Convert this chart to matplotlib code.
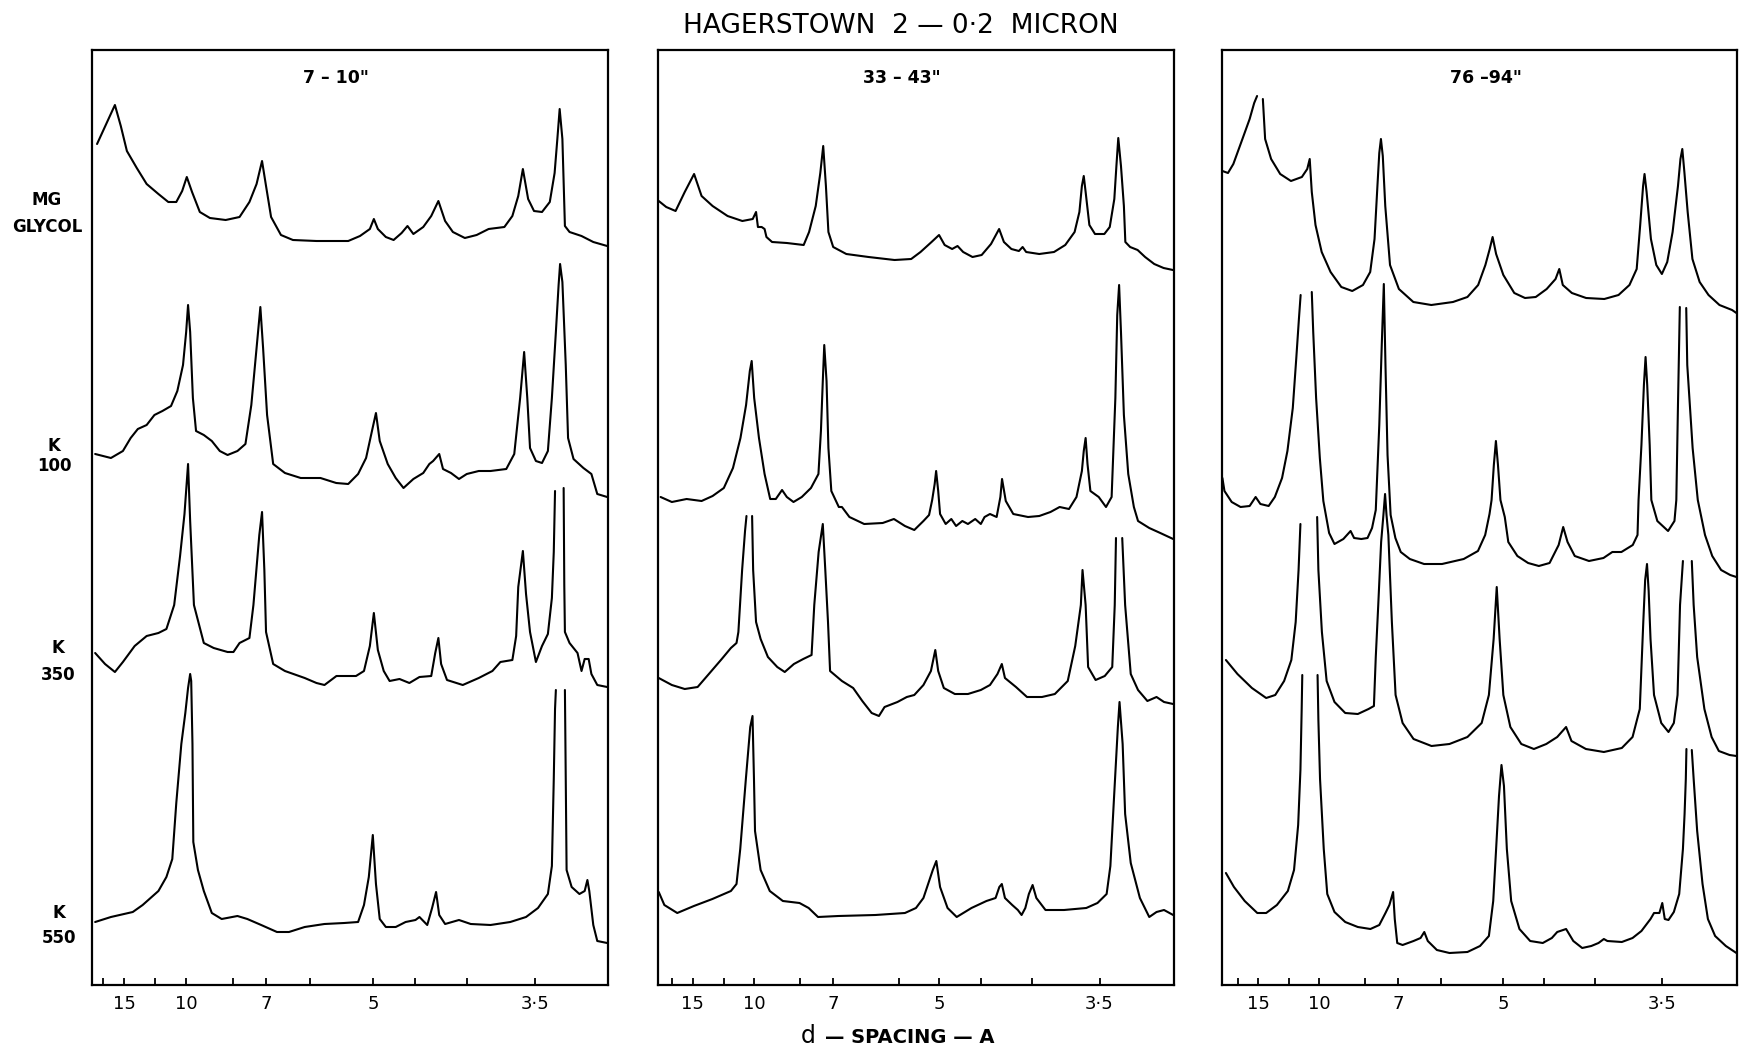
import numpy as np
import matplotlib
matplotlib.use("Agg")
import matplotlib.pyplot as plt

NaN = np.nan
WAVELENGTH = 1.5418  # Cu K-alpha, Angstrom

# ---------------- data: 2-theta (deg) and relative intensity ----------------
# Panel 1  (7 - 10")
P1_MG_T = [4.61, 5.46, 5.74, 6.03, 6.50, 6.97, 7.53, 8.00, 8.38, 8.66, 8.88, 9.13, 9.50, 9.98, 10.73, 11.39,
           11.86, 12.20, 12.46, 12.65, 12.89, 13.36, 13.93, 15.05, 16.56, 17.12, 17.59, 17.78, 17.97, 18.35,
           18.72, 19.10, 19.38, 19.66, 20.13, 20.51, 20.85, 21.17, 21.54, 22.11, 22.67, 23.24, 23.99, 24.37,
           24.65, 24.87, 25.12, 25.40, 25.78, 26.15, 26.38, 26.51, 26.62, 26.75, 26.87, 27.09, 27.66, 28.22, 28.88]
P1_MG_I = [841, 880, 859, 834, 817, 801, 791, 783, 783, 794, 808, 793, 773, 767, 765, 768,
           783, 801, 824, 799, 768, 750, 745, 744, 744, 749, 756, 766, 756, 748,
           745, 752, 759, 751, 758, 769, 784, 764, 753, 747, 750, 756, 758, 769,
           789, 816, 786, 774, 773, 783, 812, 846, 876, 846, 759, 753, 749, 743, 739]

P1_K100_T = [4.52, 5.27, 5.84, 6.21, 6.55, 6.97, 7.34, 7.72, 8.13, 8.43, 8.70, 8.85, 8.94, 9.04, 9.17, 9.32,
             9.69, 10.07, 10.45, 10.82, 11.29, 11.67, 11.95, 12.20, 12.38, 12.51, 12.70, 12.99, 13.55, 14.30,
             15.24, 15.99, 16.56, 17.03, 17.41, 17.69, 17.88, 18.06, 18.44, 18.82, 19.19, 19.66, 20.13, 20.42,
             20.60, 20.89, 21.07, 21.45, 21.83, 22.20, 22.77, 23.33, 24.08, 24.46, 24.74, 24.93, 25.08, 25.21,
             25.49, 25.78, 26.06, 26.25, 26.44, 26.57, 26.64, 26.75, 26.91, 27.02, 27.28, 27.75, 28.13, 28.41, 28.88]
P1_K100_I = [531, 527, 534, 547, 556, 560, 570, 574, 579, 594, 620, 653, 680, 653, 587, 554,
             550, 544, 534, 530, 534, 541, 580, 637, 678, 637, 570, 521, 512, 507,
             507, 502, 501, 511, 527, 554, 572, 544, 521, 507, 497, 506, 512, 521,
             524, 531, 516, 512, 506, 511, 514, 514, 516, 531, 587, 633, 587, 537,
             524, 522, 534, 587, 653, 700, 721, 703, 620, 547, 526, 517, 511, 491, 488]

P1_K350_T = [4.52, 4.99, 5.46, 5.84, 6.40, 6.97, 7.53, 7.91, 8.28, 8.56, 8.77, 8.94, 9.04, 9.22, 9.69, 10.16,
             10.82, 11.10, 11.39, 11.86, 12.05, 12.33, 12.46, 12.57, 12.65, 12.99, 13.55, 14.49, 15.05, 15.43,
             16.00, 16.93, 17.31, 17.59, 17.78, 17.97, 18.25, 18.53, 19.00, 19.47, 19.95, 20.51, 20.70, 20.85,
             20.98, 21.26, 22.01, 22.77, 23.42, 23.80, 24.37, 24.55, 24.65, 24.87, 25.02, 25.21, 25.49, 25.78,
             26.06, 26.25, 26.34, 26.40, NaN, 26.81, 26.84, 26.87, 27.09, 27.47, 27.66, 27.81, 28.00, 28.13,
             28.41, 28.88]
P1_K350_I = [332, 321, 313, 323, 339, 349, 352, 356, 380, 429, 471, 521, 464, 380, 342, 337,
             333, 333, 342, 347, 380, 450, 473, 415, 353, 321, 314, 307, 302, 300,
             309, 309, 314, 339, 372, 335, 314, 304, 306, 302, 308, 309, 332, 347,
             321, 305, 300, 307, 314, 323, 325, 349, 398, 434, 391, 353, 323, 339,
             351, 387, 433, 494, NaN, 497, 400, 353, 342, 332, 314, 326, 326, 311,
             300, 298]

P1_K550_T = [4.52, 5.27, 6.31, 6.78, 7.53, 7.91, 8.19, 8.38, 8.62, 8.81, 8.94, 9.04, 9.09, 9.15, 9.19, 9.41,
             9.69, 10.07, 10.54, 11.29, 11.76, 12.42, 13.17, 13.74, 14.49, 15.43, 16.37, 17.03, 17.31, 17.54,
             17.73, 17.88, 18.06, 18.35, 18.82, 19.29, 19.76, 19.95, 20.32, 20.55, 20.74, 20.89, 21.17, 21.83,
             22.39, 23.33, 24.27, 25.02, 25.59, 26.06, 26.25, 26.34, 26.40, 26.44, NaN, 26.87, 26.91, 26.95,
             27.19, 27.56, 27.81, 27.94, 28.03, 28.22, 28.41, 28.88]
P1_K550_I = [63, 68, 73, 80, 94, 108, 126, 182, 241, 272, 297, 311, 304, 241, 143, 115,
             94, 72, 66, 69, 66, 60, 53, 53, 58, 61, 62, 63, 80, 108,
             150, 101, 66, 58, 58, 63, 65, 68, 60, 77, 93, 70, 61, 65,
             61, 60, 63, 68, 77, 91, 119, 206, 276, 295, NaN, 295, 206, 115,
             98, 91, 94, 105, 94, 60, 44, 42]

# Panel 2  (33 - 43")
P2_MG_T = [4.25, 4.61, 5.06, 5.50, 5.95, 6.31, 6.84, 7.56, 8.27, 8.77, 8.93, 9.02, 9.20, 9.34, 9.43, 9.70,
           10.41, 11.22, 11.48, 11.80, 12.02, 12.16, 12.29, 12.41, 12.64, 13.27, 14.34, 15.59, 16.39, 16.84,
           17.37, 17.73, 18.00, 18.36, 18.62, 18.89, 19.34, 19.78, 20.23, 20.62, 20.85, 21.21, 21.57, 21.75,
           21.92, 22.55, 23.26, 23.80, 24.25, 24.48, 24.60, 24.69, 24.78, 24.96, 25.23, 25.68, 25.94, 26.16,
           26.26, 26.35, 26.48, 26.62, 26.69, 26.92, 27.28, 27.64, 28.08, 28.53, 28.98]
P2_MG_I = [784, 778, 774, 793, 811, 789, 779, 769, 764, 766, 773, 758, 758, 756, 748, 743,
           742, 740, 753, 779, 812, 839, 799, 753, 738, 731, 728, 725, 726, 733,
           743, 750, 740, 736, 739, 733, 728, 730, 741, 756, 743, 736, 734, 738,
           733, 731, 733, 740, 753, 773, 799, 809, 793, 760, 751, 751, 758, 786,
           819, 847, 819, 779, 743, 738, 735, 728, 721, 717, 715]

P2_K100_T = [4.34, 4.88, 5.59, 6.31, 6.84, 7.38, 7.82, 8.18, 8.45, 8.63, 8.72, 8.84, 9.07, 9.34, 9.61, 9.88,
             10.18, 10.41, 10.73, 11.13, 11.57, 11.93, 12.05, 12.14, 12.21, 12.32, 12.41, 12.55, 12.91, 13.06,
             13.42, 14.13, 15.02, 15.56, 16.09, 16.54, 16.98, 17.25, 17.40, 17.52, 17.59, 17.69, 17.78, 18.05,
             18.32, 18.55, 18.85, 19.12, 19.47, 19.74, 19.92, 20.18, 20.50, 20.68, 20.76, 20.94, 21.30, 22.01,
             22.55, 23.09, 23.53, 23.98, 24.34, 24.60, 24.69, 24.78, 24.87, 25.01, 25.41, 25.76, 26.03, 26.21,
             26.30, 26.39, 26.48, 26.62, 26.83, 27.10, 27.30, 27.84, 28.37, 28.99]
P2_K100_I = [488, 483, 486, 484, 489, 497, 517, 547, 580, 614, 624, 587, 547, 511, 486, 486,
             495, 488, 483, 488, 497, 511, 554, 604, 640, 604, 537, 494, 478, 478,
             468, 461, 462, 466, 459, 455, 464, 470, 485, 501, 514, 494, 471, 461,
             466, 459, 464, 461, 466, 461, 468, 471, 468, 488, 506, 484, 471, 468,
             469, 473, 478, 476, 488, 514, 534, 547, 521, 494, 488, 478, 488, 587,
             670, 700, 653, 570, 511, 478, 464, 457, 452, 446]

P2_K350_T = [4.25, 4.88, 5.50, 6.12, 6.66, 7.28, 7.72, 7.99, 8.08, 8.26, 8.40, 8.47, NaN, 8.74, 8.79, 8.93,
             9.15, 9.50, 9.95, 10.31, 10.75, 11.20, 11.60, 11.73, 11.94, 12.14, 12.26, 12.39, 12.49, 13.06,
             13.60, 14.04, 14.49, 14.84, 15.11, 15.73, 16.18, 16.54, 16.98, 17.34, 17.55, 17.69, 17.96, 18.49,
             19.12, 19.74, 20.18, 20.54, 20.75, 20.90, 21.43, 21.96, 22.68, 23.30, 23.92, 24.28, 24.55, 24.63,
             24.78, 24.90, 25.26, 25.70, 26.06, 26.18, 26.24, NaN, 26.54, 26.68, 26.95, 27.30, 27.75, 28.19,
             28.55, 28.99]
P2_K350_I = [307, 300, 296, 298, 311, 326, 337, 342, 353, 415, 454, 469, NaN, 469, 415, 363,
             346, 328, 318, 313, 321, 326, 330, 380, 433, 461, 415, 363, 314, 304,
             297, 284, 272, 269, 278, 283, 288, 290, 300, 314, 335, 314, 297, 291,
             291, 295, 300, 311, 321, 307, 298, 288, 288, 291, 304, 339, 380, 415,
             380, 318, 305, 309, 318, 380, 447, NaN, 447, 380, 311, 295, 284, 288,
             283, 281]

P2_K550_T = [4.25, 4.52, 5.14, 5.94, 6.83, 7.72, 7.99, 8.17, 8.44, 8.65, 8.76, 8.83, 8.88, 9.15, 9.59, 10.22,
             11.02, 11.46, 11.91, 12.89, 14.67, 16.09, 16.62, 16.98, 17.43, 17.60, 17.78, 18.14, 18.58, 19.29,
             20.01, 20.45, 20.63, 20.75, 20.90, 21.25, 21.52, 21.70, 21.88, 22.05, 22.23, 22.41, 22.85, 23.74,
             24.81, 25.35, 25.79, 25.97, 26.15, 26.33, 26.41, 26.56, 26.68, 26.95, 27.39, 27.84, 28.19, 28.55, 28.99]
P2_K550_I = [93, 80, 72, 79, 86, 94, 101, 136, 206, 258, 269, 206, 154, 115, 94, 84,
             82, 77, 68, 69, 70, 72, 77, 87, 115, 124, 98, 77, 68, 77,
             84, 87, 98, 101, 87, 80, 75, 70, 77, 91, 100, 87, 75, 75,
             77, 82, 91, 119, 189, 258, 283, 241, 171, 122, 87, 68, 73, 75, 70]

# Panel 3  (76 - 94")
P3_MG_T = [4.15, 4.42, 4.68, 5.12, 5.47, 5.69, 5.83, NaN, 6.11, 6.22, 6.51, 6.95, 7.47, 8.00, 8.26, 8.38,
           8.48, 8.66, 8.96, 9.39, 9.91, 10.44, 10.96, 11.31, 11.52, 11.66, 11.75, 11.83, 11.92, 12.04,
           12.27, 12.70, 13.40, 14.27, 15.32, 16.02, 16.54, 16.89, 17.10, 17.24, 17.41, 17.76, 18.29, 18.81,
           19.33, 19.86, 20.29, 20.47, 20.64, 21.08, 21.77, 22.65, 23.34, 23.87, 24.22, 24.39, 24.53, 24.60,
           24.70, 24.91, 25.17, 25.44, 25.70, 25.96, 26.22, 26.34, 26.43, 26.53, 26.69, 26.92, 27.27, 27.70,
           28.23, 28.84, 29.05]
P3_MG_I = [814, 812, 821, 846, 866, 882, 889, NaN, 886, 846, 826, 811, 804, 808, 816, 826,
           793, 760, 733, 713, 698, 694, 700, 713, 746, 799, 832, 846, 829, 779,
           720, 696, 683, 680, 683, 688, 700, 720, 736, 748, 731, 710, 692, 687,
           688, 696, 706, 716, 700, 692, 687, 686, 690, 700, 716, 760, 799, 811,
           793, 746, 720, 711, 723, 753, 799, 826, 836, 813, 773, 726, 703, 690,
           680, 675, 672]

P3_K100_T = [4.15, 4.25, 4.60, 5.03, 5.47, 5.76, 5.99, 6.39, 6.69, 7.04, 7.30, 7.56, 7.73, 7.86, 7.94, NaN,
             8.48, 8.55, 8.69, 8.87, 9.04, 9.32, 9.58, 10.01, 10.36, 10.53, 10.88, 11.18, 11.40, 11.58,
             11.75, 11.87, 11.97, 12.05, 12.15, 12.30, 12.53, 12.79, 13.23, 13.92, 14.79, 15.84, 16.53, 16.88,
             17.09, 17.19, 17.30, 17.40, 17.50, 17.62, 17.83, 18.00, 18.44, 18.96, 19.48, 20.00, 20.44, 20.66,
             20.87, 21.22, 21.91, 22.61, 23.04, 23.48, 24.03, 24.26, 24.31, 24.45, 24.57, 24.65, 24.73, 24.85,
             24.93, 25.22, 25.74, 26.05, 26.14, 26.22, 26.31, NaN, 26.62, 26.67, 26.93, 27.18, 27.53, 27.88,
             28.31, 28.75, 29.05]
P3_K100_I = [507, 494, 483, 478, 479, 488, 481, 479, 488, 507, 534, 577, 627, 667, 690, NaN,
             693, 653, 587, 527, 484, 452, 441, 446, 454, 447, 446, 447, 457, 475,
             560, 640, 701, 620, 530, 470, 447, 433, 426, 421, 421, 426, 434, 450,
             471, 485, 520, 544, 520, 485, 468, 443, 429, 422, 419, 422, 440, 458,
             443, 429, 424, 427, 433, 433, 440, 450, 485, 540, 600, 628, 600, 540,
             485, 464, 454, 464, 485, 580, 678, NaN, 677, 620, 537, 485, 450, 429,
             415, 410, 408]

P3_K350_T = [4.32, 4.88, 5.58, 6.27, 6.71, 7.14, 7.49, 7.70, 7.84, 7.93, NaN, 8.74, 8.80, 8.97, 9.20, 9.58,
             10.10, 10.71, 11.23, 11.49, 11.58, 11.70, 11.84, 11.95, 12.03, 12.10, 12.19, 12.36, 12.54, 12.88,
             13.41, 14.28, 15.15, 16.02, 16.71, 17.06, 17.29, 17.44, 17.58, 17.76, 18.10, 18.63, 19.24, 19.84,
             20.37, 20.80, 21.06, 21.76, 22.63, 23.50, 24.02, 24.37, 24.54, 24.63, 24.72, 24.80, 24.89, 25.06,
             25.41, 25.76, 26.02, 26.20, 26.32, 26.46, NaN, 26.89, 26.98, 27.15, 27.50, 27.85, 28.20, 28.72, 29.05]
P3_K350_I = [325, 311, 297, 287, 290, 304, 325, 363, 415, 461, NaN, 468, 415, 353, 304, 283,
             272, 271, 276, 279, 328, 380, 443, 470, 491, 470, 450, 363, 290, 262,
             246, 239, 241, 248, 262, 290, 346, 398, 346, 290, 258, 241, 236, 241,
             248, 258, 244, 236, 233, 237, 248, 276, 363, 405, 421, 394, 346, 290,
             262, 253, 262, 290, 380, 424, NaN, 424, 380, 328, 276, 248, 234, 230, 229]

P3_K550_T = [4.32, 4.71, 5.23, 5.84, 6.27, 6.79, 7.32, 7.62, 7.82, 7.93, 7.99, 8.02, NaN, 8.76, 8.80, 8.88, 9.06,
             9.23, 9.58, 10.10, 10.71, 11.32, 11.75, 12.05, 12.24, 12.42, 12.50, 12.62, 12.88, 13.41, 13.75,
             13.93, 14.10, 14.54, 15.15, 16.02, 16.63, 17.06, 17.27, 17.41, 17.55, 17.67, 17.79, 17.93, 18.14,
             18.54, 19.06, 19.67, 20.11, 20.37, 20.80, 21.15, 21.58, 22.02, 22.37, 22.63, 22.80, 23.50, 24.02,
             24.45, 24.89, 25.06, 25.32, 25.46, 25.58, 25.76, 26.02, 26.28, 26.46, 26.54, 26.60, 26.63, NaN,
             26.89, 26.98, 27.15, 27.41, 27.67, 28.02, 28.54, 29.05]
P3_K550_I = [112, 98, 84, 72, 72, 80, 94, 115, 160, 215, 275, 310, NaN, 310, 265, 206, 136,
             91, 73, 63, 58, 56, 60, 72, 80, 93, 66, 42, 40, 44, 47,
             53, 44, 35, 32, 33, 39, 49, 84, 136, 189, 220, 199, 136, 84,
             56, 44, 42, 47, 53, 56, 44, 37, 39, 42, 46, 44, 43, 47,
             54, 66, 72, 72, 82, 66, 65, 73, 91, 136, 171, 206, 236, NaN,
             235, 206, 154, 101, 66, 49, 39, 32]

PANEL_TITLES = ['7 \u2013 10"', '33 \u2013 43"', '76 \u201394"']
PANEL_CURVES = [
    [(P1_MG_T, P1_MG_I), (P1_K100_T, P1_K100_I), (P1_K350_T, P1_K350_I), (P1_K550_T, P1_K550_I)],
    [(P2_MG_T, P2_MG_I), (P2_K100_T, P2_K100_I), (P2_K350_T, P2_K350_I), (P2_K550_T, P2_K550_I)],
    [(P3_MG_T, P3_MG_I), (P3_K100_T, P3_K100_I), (P3_K350_T, P3_K350_I), (P3_K550_T, P3_K550_I)],
]
PANEL_XLIM = [(4.37, 28.92), (4.20, 29.03), (4.15, 29.07)]
TICK_D = [
    [18, 15, 12, 10, 8, 7, 6, 5, 4.5, 4, 3.5],
    [18, 15, 12, 10, 8, 7, 5.6, 5, 4.5, 4, 3.5],
    [18, 15, 12, 10, 8, 7, 6, 5, 4.5, 4, 3.5],
]
TICK_TEXT = {15: '15', 10: '10', 7: '7', 5: '5', 3.5: '3\u00b75'}
ROW_LABELS = [('MG', 'GLYCOL'), ('K', '100'), ('K', '350'), ('K', '550')]
TITLE = 'HAGERSTOWN  2 \u2014 0\u00b72  MICRON'

# ---------------- layout (figure pixels) ----------------
W, H = 1743, 1047
fig = plt.figure(figsize=(W / 100, H / 100), dpi=100)
fig.patch.set_facecolor('white')

def fx(px):
    return px / W

def fy(py):
    return 1 - py / H

AX_TOP, AX_BOT = 50, 985
AX_LEFT = [92.0, 657.7, 1222.4]
AX_WIDTH = [516.0, 516.3, 514.4]
SUB_X = [0.473, 0.473, 0.512]

def d_to_2theta(d):
    return np.degrees(2 * np.arcsin(WAVELENGTH / (2 * np.asarray(d, dtype=float))))

for i in range(3):
    ax = fig.add_axes([fx(AX_LEFT[i]), fy(AX_BOT), AX_WIDTH[i] / W, (AX_BOT - AX_TOP) / H])
    for t, y in PANEL_CURVES[i]:
        ax.plot(np.array(t, dtype=float), np.array(y, dtype=float), color='black', lw=1.5,
                solid_joinstyle='round', solid_capstyle='round')
    ax.set_xlim(*PANEL_XLIM[i])
    ax.set_ylim(0, AX_BOT - AX_TOP)
    ax.set_yticks([])
    pos = d_to_2theta(TICK_D[i])
    ax.set_xticks(pos)
    ax.set_xticklabels([TICK_TEXT.get(d, '') for d in TICK_D[i]])
    ax.tick_params(axis='x', direction='in', length=5, width=1.3, pad=7, labelsize=13)
    for s in ax.spines.values():
        s.set_linewidth(1.6)
        s.set_color('black')
    ax.text(SUB_X[i], 0.970, PANEL_TITLES[i], transform=ax.transAxes, ha='center', va='center',
            fontsize=12.5, fontweight='bold')

# title
fig.text(fx(901), fy(33), TITLE, ha='center', va='baseline', fontsize=19)

# x label
fig.text(fx(801), fy(1043), 'd', ha='left', va='baseline', fontsize=17)
fig.text(fx(825), fy(1043), '\u2014 SPACING \u2014 A', ha='left', va='baseline', fontsize=14, fontweight='bold')

# row labels: (x centre, baseline line1, baseline line2)
ROW_POS = [(47, 205, 232), (54, 451, 471), (58, 653, 680), (59, 918, 943)]
for (l1, l2), (x, b1, b2) in zip(ROW_LABELS, ROW_POS):
    fig.text(fx(x), fy(b1), l1, ha='center', va='baseline', fontsize=12, fontweight='bold')
    fig.text(fx(x), fy(b2), l2, ha='center', va='baseline', fontsize=12, fontweight='bold')

fig.savefig('out.png', dpi=100, facecolor='white')
